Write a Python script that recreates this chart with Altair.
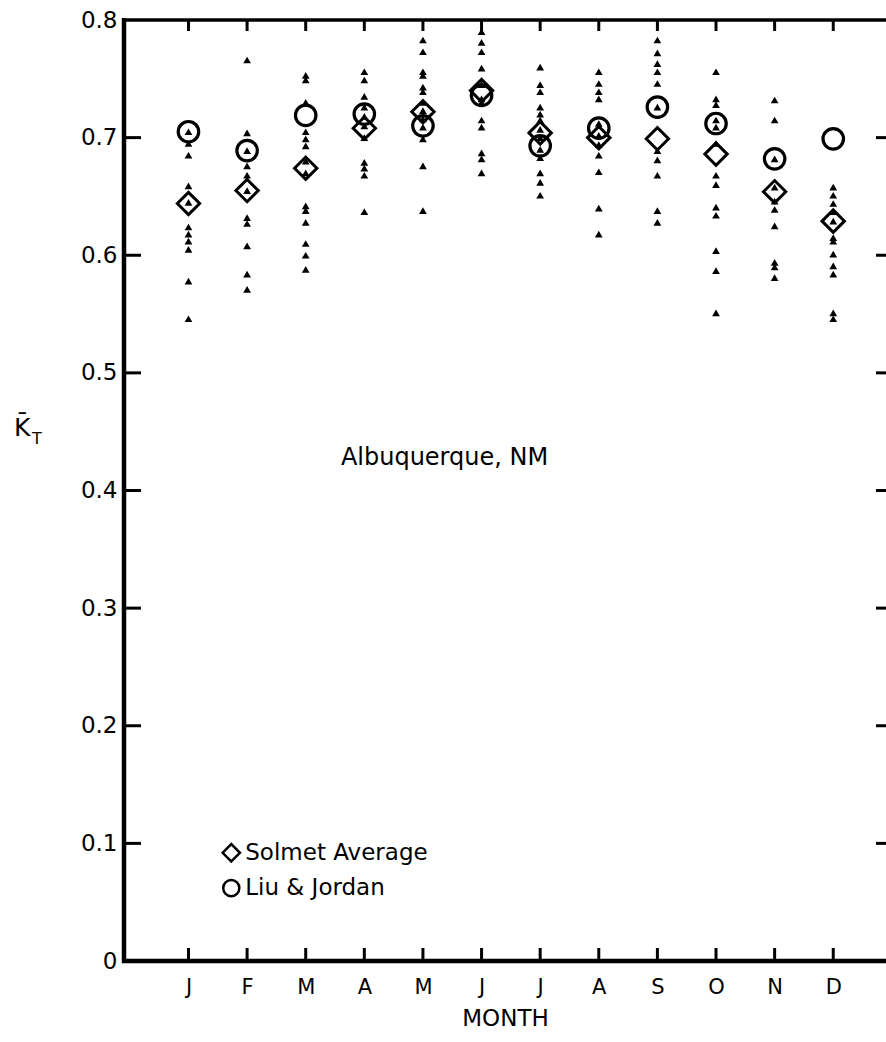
import altair as alt
import pandas as pd

months = ["J", "F", "M", "A", "M", "J", "J", "A", "S", "O", "N", "D"]

# individual-year monthly K_T values (triangles)
yearly = [
    [0.705, 0.695, 0.685, 0.659, 0.645, 0.624, 0.618, 0.612, 0.605, 0.578, 0.546],
    [0.766, 0.704, 0.689, 0.676, 0.668, 0.655, 0.632, 0.627, 0.608, 0.584, 0.571],
    [0.753, 0.749, 0.730, 0.705, 0.699, 0.693, 0.680, 0.670, 0.642, 0.638, 0.628, 0.610, 0.600, 0.588],
    [0.756, 0.749, 0.735, 0.726, 0.718, 0.710, 0.700, 0.679, 0.674, 0.668, 0.637],
    [0.783, 0.773, 0.756, 0.753, 0.743, 0.739, 0.730, 0.723, 0.716, 0.709, 0.699, 0.676, 0.638],
    [0.790, 0.781, 0.773, 0.759, 0.745, 0.733, 0.730, 0.715, 0.709, 0.687, 0.682, 0.670],
    [0.760, 0.745, 0.739, 0.726, 0.720, 0.715, 0.707, 0.700, 0.690, 0.683, 0.670, 0.662, 0.651],
    [0.756, 0.746, 0.739, 0.733, 0.712, 0.702, 0.694, 0.685, 0.671, 0.640, 0.618],
    [0.783, 0.772, 0.763, 0.756, 0.746, 0.726, 0.689, 0.681, 0.668, 0.638, 0.628],
    [0.756, 0.733, 0.728, 0.715, 0.709, 0.695, 0.668, 0.660, 0.641, 0.634, 0.604, 0.587, 0.551],
    [0.732, 0.715, 0.682, 0.658, 0.646, 0.639, 0.625, 0.594, 0.590, 0.581],
    [0.658, 0.651, 0.644, 0.637, 0.629, 0.615, 0.612, 0.601, 0.591, 0.584, 0.551, 0.546],
]
solmet_avg = [0.644, 0.655, 0.674, 0.708, 0.722, 0.740, 0.704, 0.700, 0.699, 0.686, 0.654, 0.629]
liu_jordan = [0.705, 0.689, 0.719, 0.720, 0.710, 0.736, 0.693, 0.708, 0.726, 0.712, 0.682, 0.699]

y_ticks = [0.0, 0.1, 0.2, 0.3, 0.4, 0.5, 0.6, 0.7, 0.8]
month_idx = list(range(1, 13))

W, H = 762, 941

tri_rows = []
for i, vals in enumerate(yearly):
    for v in vals:
        tri_rows.append({"m": i + 1, "kt": v})
tri_df = pd.DataFrame(tri_rows)
avg_df = pd.DataFrame({"m": month_idx, "solmet": solmet_avg, "liu": liu_jordan})
mon_df = pd.DataFrame({"m": month_idx})
yt_df = pd.DataFrame({"v": [v for v in y_ticks if 0 < v < 0.8]})

xs = alt.Scale(domain=[-0.1, 12.9], nice=False, zero=False)
ys = alt.Scale(domain=[0, 0.8], nice=False, zero=False)

FONT = "DejaVu Sans"

base_x = alt.X(
    "m:Q", scale=xs,
    axis=alt.Axis(values=month_idx, labelExpr="['J','F','M','A','M','J','J','A','S','O','N','D'][datum.value-1]",
                  ticks=False, domain=False, grid=False, labelFontSize=21, labelPadding=15,
                  labelFont=FONT, labelColor="black", title="MONTH", titleFont=FONT,
                  titleFontSize=23, titleFontWeight="normal", titlePadding=10, titleColor="black"),
)
base_y = alt.Y(
    "kt:Q", scale=ys,
    axis=alt.Axis(values=y_ticks, labelExpr="datum.value == 0 ? '0' : format(datum.value, '.1f')",
                  ticks=False, domain=False, grid=False, labelFontSize=23, labelPadding=7,
                  labelFont=FONT, labelColor="black", title=None),
)

tri = alt.Chart(tri_df).mark_point(shape="triangle-up", filled=True, color="black",
                                   size=60, opacity=1).encode(x=base_x, y=base_y)

dia = alt.Chart(avg_df).mark_point(shape="diamond", filled=False, color="black",
                                   size=500, strokeWidth=3, opacity=1).encode(
    x=alt.X("m:Q", scale=xs), y=alt.Y("solmet:Q", scale=ys))
cir = alt.Chart(avg_df).mark_point(shape="circle", filled=False, color="black",
                                   size=420, strokeWidth=3.2, opacity=1).encode(
    x=alt.X("m:Q", scale=xs), y=alt.Y("liu:Q", scale=ys))

tick_bot = alt.Chart(mon_df).mark_rule(color="black", strokeWidth=3).encode(
    x=alt.X("m:Q", scale=xs), y=alt.value(H), y2=alt.value(H - 13))
tick_top = alt.Chart(mon_df).mark_rule(color="black", strokeWidth=3).encode(
    x=alt.X("m:Q", scale=xs), y=alt.value(0), y2=alt.value(11))
tick_left = alt.Chart(yt_df).mark_rule(color="black", strokeWidth=3).encode(
    y=alt.Y("v:Q", scale=ys), x=alt.value(0), x2=alt.value(17))
tick_right = alt.Chart(yt_df).mark_rule(color="black", strokeWidth=3).encode(
    y=alt.Y("v:Q", scale=ys), x=alt.value(W - 10), x2=alt.value(W))

# frame: left, bottom, top (right edge falls off the page in the original)
frame_df = pd.DataFrame({"k": [0]})
frame_left = alt.Chart(frame_df).mark_rule(color="black", strokeWidth=4.5).encode(
    x=alt.value(0), y=alt.value(-2), y2=alt.value(H + 2))
frame_bot = alt.Chart(frame_df).mark_rule(color="black", strokeWidth=4.5).encode(
    x=alt.value(-2), x2=alt.value(W), y=alt.value(H))
frame_top = alt.Chart(frame_df).mark_rule(color="black", strokeWidth=3.5).encode(
    x=alt.value(-2), x2=alt.value(W), y=alt.value(0))

# annotations
site_df = pd.DataFrame({"m": [3.6], "kt": [0.428], "t": ["Albuquerque,  NM"]})
site = alt.Chart(site_df).mark_text(align="left", baseline="middle", font=FONT,
                                    fontSize=24, color="black").encode(
    x=alt.X("m:Q", scale=xs), y=alt.Y("kt:Q", scale=ys), text="t:N")

leg_df = pd.DataFrame({"m": [1.73, 1.73], "kt": [0.092, 0.062],
                       "t": ["Solmet Average", "Liu & Jordan"]})
leg_sym_d = alt.Chart(leg_df.iloc[[0]]).mark_point(shape="diamond", filled=False, color="black",
                                                  size=300, strokeWidth=2.5, opacity=1).encode(
    x=alt.X("m:Q", scale=xs), y=alt.Y("kt:Q", scale=ys))
leg_sym_c = alt.Chart(leg_df.iloc[[1]]).mark_point(shape="circle", filled=False, color="black",
                                                  size=260, strokeWidth=2.5, opacity=1).encode(
    x=alt.X("m:Q", scale=xs), y=alt.Y("kt:Q", scale=ys))
leg_txt = alt.Chart(leg_df).mark_text(align="left", baseline="middle", font=FONT, fontSize=23,
                                      dx=14, color="black").encode(
    x=alt.X("m:Q", scale=xs), y=alt.Y("kt:Q", scale=ys), text="t:N")

# y-axis symbol K-bar with subscript T
ylab_k = alt.Chart(pd.DataFrame({"t": ["K\u0304"]})).mark_text(
    align="left", baseline="middle", font=FONT, fontSize=25, color="black").encode(
    x=alt.value(-110), y=alt.value(408), text="t:N")
ylab_t = alt.Chart(pd.DataFrame({"t": ["T"]})).mark_text(
    align="left", baseline="middle", font=FONT, fontSize=16, color="black").encode(
    x=alt.value(-92), y=alt.value(419), text="t:N")

chart = alt.layer(
    tri, dia, cir, tick_bot, tick_top, tick_left, tick_right,
    frame_left, frame_bot, frame_top,
    site, leg_sym_d, leg_sym_c, leg_txt, ylab_k, ylab_t
).properties(
    width=W, height=H,
    background="white",
    autosize=alt.AutoSizeParams(type="none"),
    padding={"left": 124, "top": 20, "right": 0, "bottom": 81},
).configure_view(stroke=None, strokeWidth=0)

chart.save("out.html", embed_options={"renderer": "svg", "actions": False})
